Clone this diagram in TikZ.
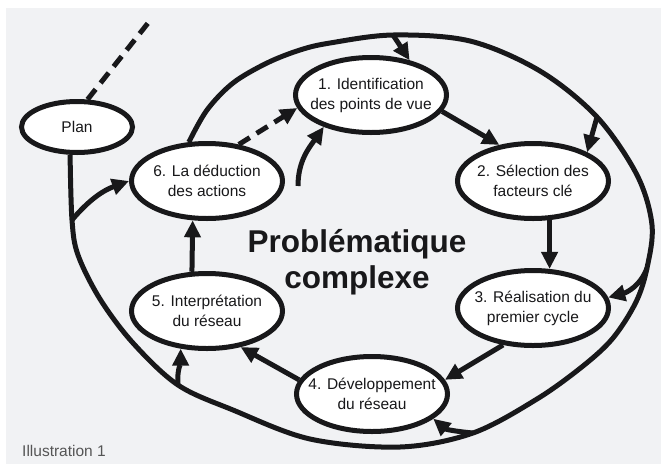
\documentclass[tikz,border=0pt]{standalone}
\usepackage{fontspec}
\setmainfont{Liberation Sans}
\usetikzlibrary{shapes.geometric,arrows.meta}
\definecolor{bg}{RGB}{241,242,244}
\definecolor{ink}{RGB}{24,24,26}
\definecolor{capt}{RGB}{85,85,85}
\begin{document}
\begin{tikzpicture}[x=1pt,y=1pt,
  box/.style={ellipse,draw=ink,fill=white,line width=5pt,inner xsep=-25pt,inner ysep=-10pt,
    minimum width=151pt,minimum height=75pt,align=center,
    font=\fontsize{15.5}{20}\selectfont,text=ink},
  link/.style={draw=ink,line width=5pt,-{Triangle[length=17pt,width=16pt]}},
  dashlink/.style={link,dash pattern=on 13pt off 8pt},
  plain/.style={draw=ink,line width=5pt},
  titletext/.style={font=\fontsize{31.5}{36}\selectfont\bfseries,text=ink,anchor=base}
]
\fill[white] (0,0) rectangle (661,-464);
\fill[bg] (6,-8) rectangle (661,-464);
\useasboundingbox (0,0) rectangle (661,-464);

% nodes
\node[box,minimum width=111pt,minimum height=51pt] (plan) at (77,-127) {Plan};
\node[box] (n1) at (371,-95) {1. Identification\\des points de vue};
\node[box] (n2) at (533,-181) {2. Sélection des\\facteurs clé};
\node[box] (n3) at (533,-308) {3. Réalisation du\\premier cycle};
\node[box] (n4) at (372,-394) {4. Développement\\du réseau};
\node[box] (n5) at (207,-311) {5. Interprétation\\du réseau};
\node[box] (n6) at (207,-181) {6. La déduction\\des actions};

\node[titletext] (t1) at (357,-252) {Problématique};
\node[titletext] (t2) at (357,-288) {complexe};

\node[font=\fontsize{15.5}{18}\selectfont,text=capt,anchor=base west,inner sep=0pt] (ill) at (22,-456) {Illustration 1};

% free ends and points on the outer loop
\coordinate (dtop) at (152,-18);
\coordinate (c1) at (298,-186);
\coordinate (o1) at (393,-35);
\coordinate (o2) at (597,-117);
\coordinate (o3) at (647,-268);
\coordinate (o4) at (473,-433);
\coordinate (o5) at (178,-385);
\coordinate (o6) at (72,-220);

% outer loop
\draw[plain,line join=round] plot[smooth,tension=0.55] coordinates {
  (n6.115) (207,-110) (233,-83) (267,-63) (300,-50) (330,-43) (o1) (470,-41)
  (540,-71) (o2) (637,-175) (652,-225) (o3) (636,-302) (613,-338) (583,-366)
  (537,-399) (o4) (400,-447) (310,-439) (233,-410) (o5) (133,-343)
  (100,-299) (78,-255) (o6) (plan.256)};

% branches from the outer loop
\draw[link] (o1) -- (n1.42);
\draw[link] (o2) -- (n2.28);
\draw[link] (o3) to[out=250,in=15] (n3.8);
\draw[link] (o4) to[out=175,in=320] (n4.338);
\draw[link] (o5) to[out=95,in=270] (n5.235);
\draw[link] (o6) to[out=50,in=200] (n6.180);

% plan dashed line
\draw[plain,dash pattern=on 13pt off 8pt] (plan.69) -- (dtop);

% main cycle
\draw[dashlink] (n6.49) -- (n1.190);
\draw[link] (c1) to[out=90,in=235] (n1.214);
\draw[link] (n1.347) -- (n2.133);
\draw[link] (n2.293) -- (n3.67);
\draw[link] (n3.231) -- (n4.11);
\draw[link] (n4.169) -- (n5.313);
\draw[link] (n5.111) -- (n6.250);
\end{tikzpicture}
\end{document}
